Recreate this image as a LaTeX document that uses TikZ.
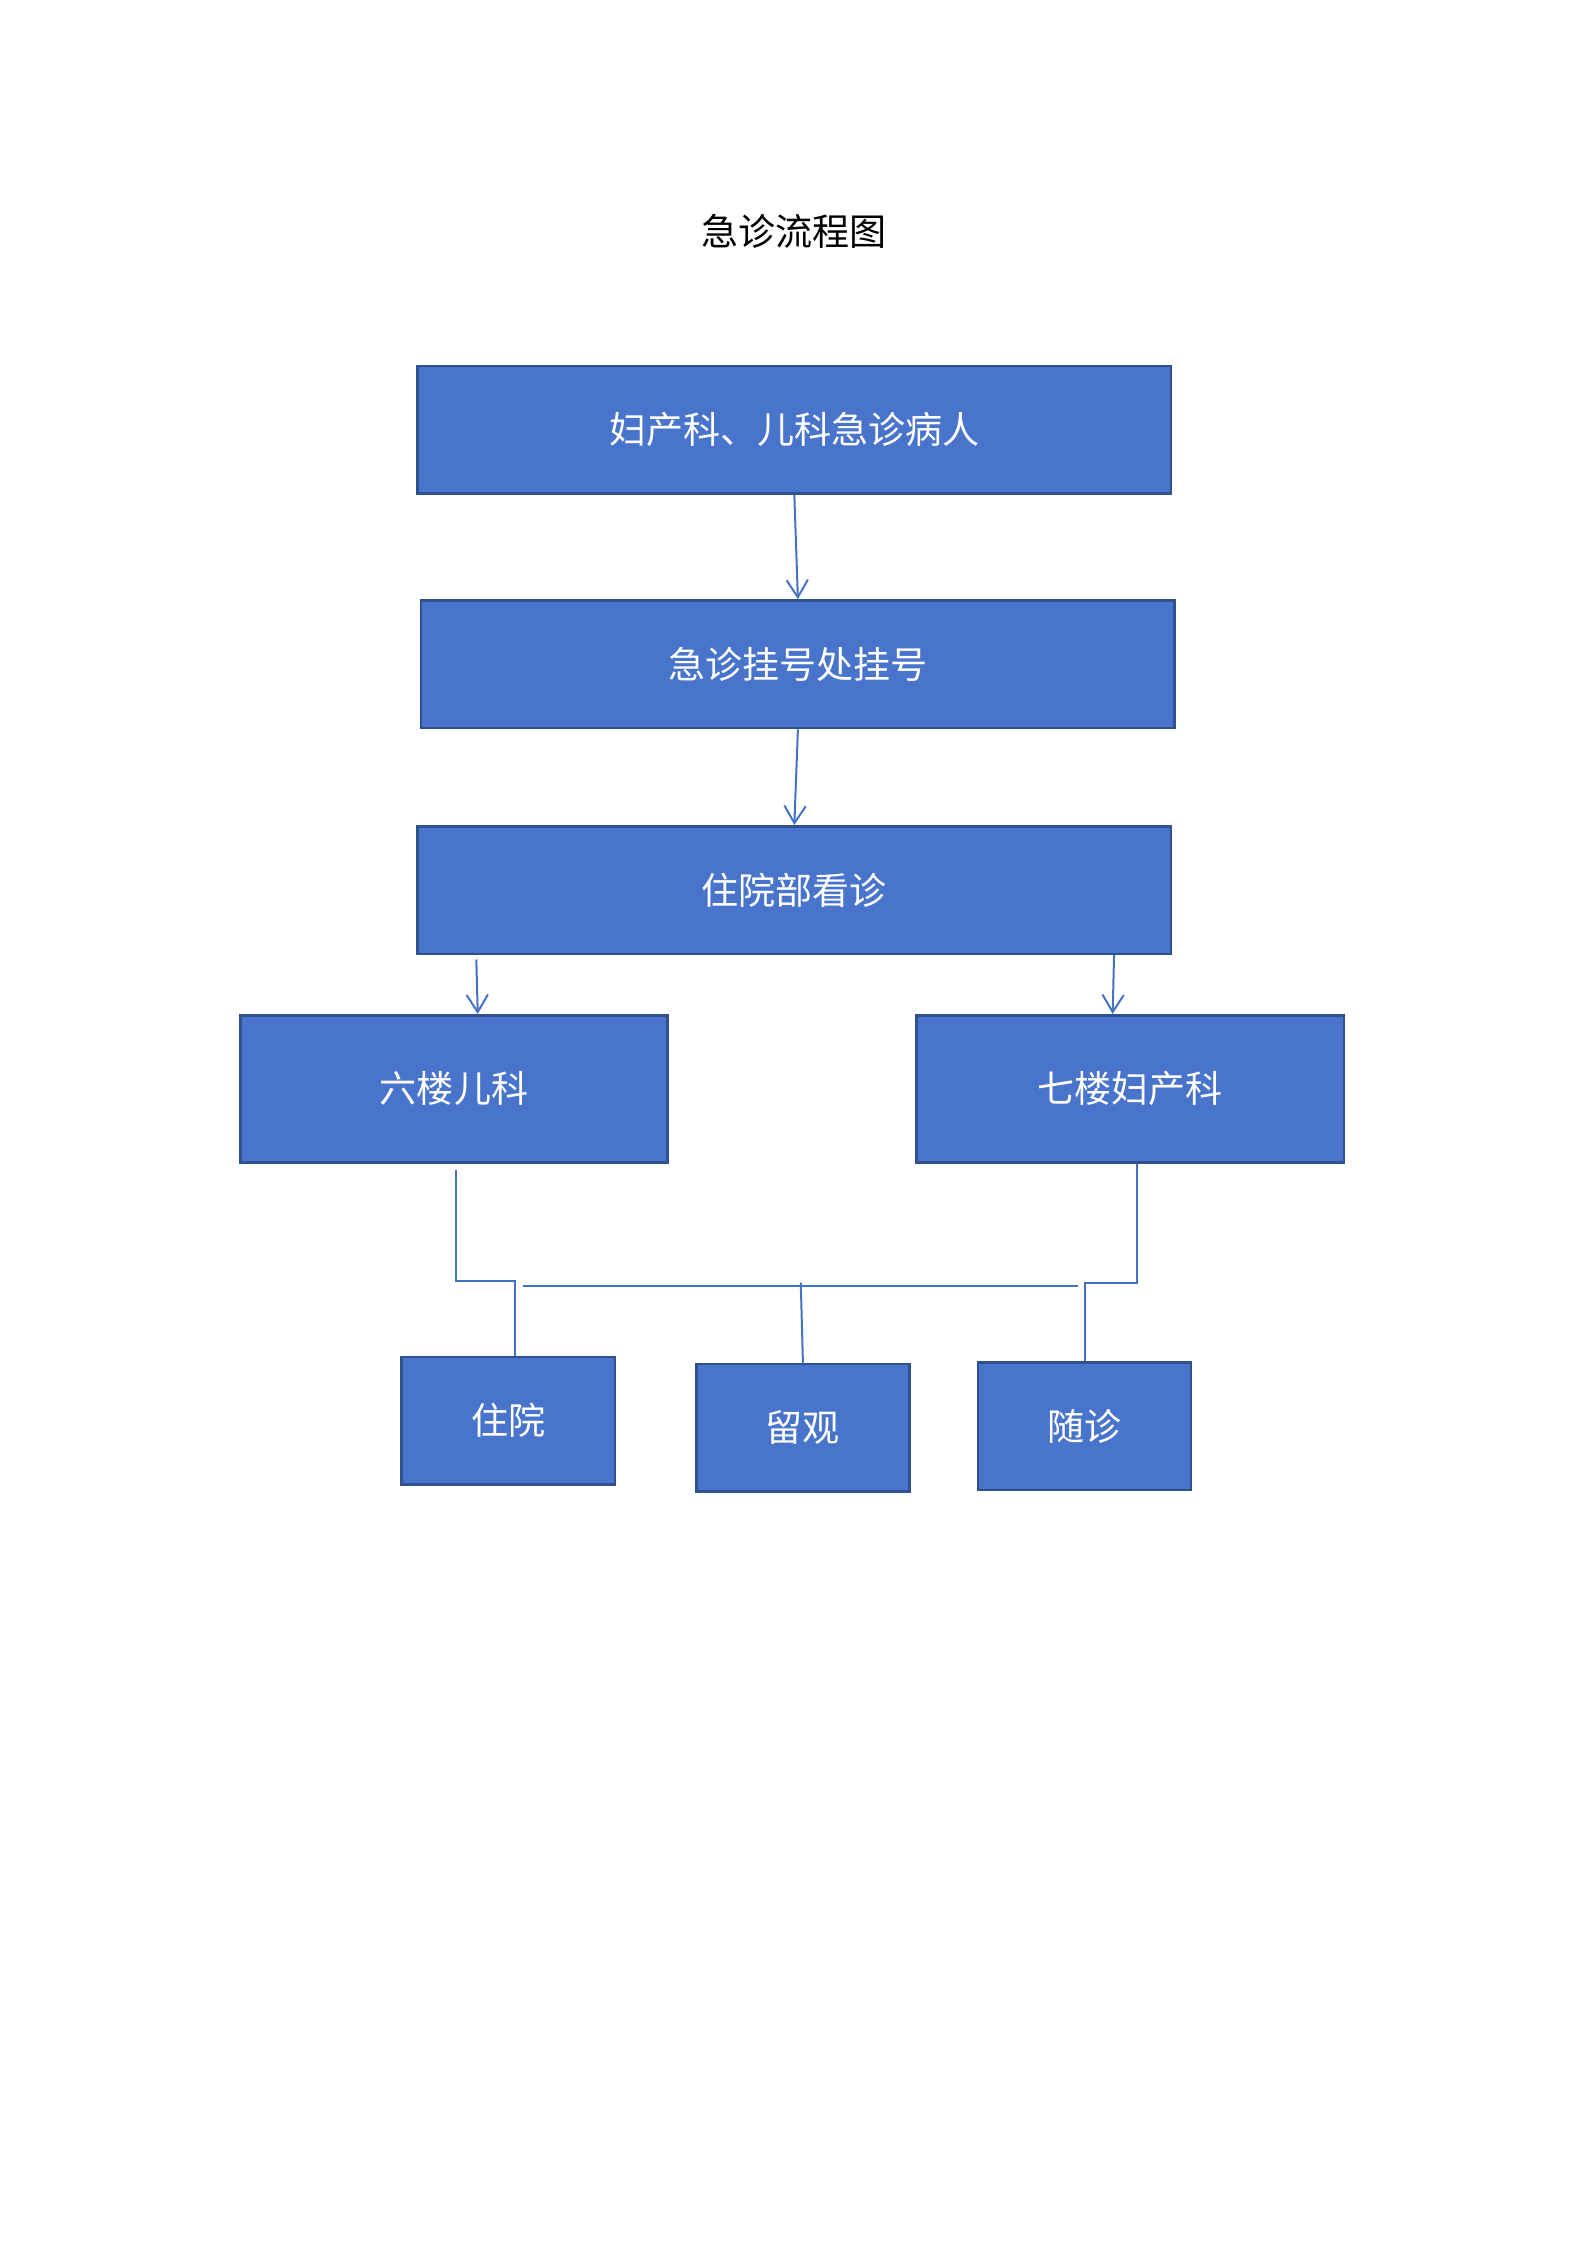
\documentclass[tikz,border=0pt]{standalone}
\usepackage{fontspec}
\setmainfont{Noto Sans CJK SC}
\usetikzlibrary{arrows.meta}
\usetikzlibrary{calc}
\definecolor{boxfill}{RGB}{72,116,203}
\definecolor{boxline}{RGB}{47,82,143}
\definecolor{linkblue}{RGB}{68,114,196}

\begin{document}
\begin{tikzpicture}[x=0.5363pt,y=-0.5363pt,>={Straight Barb[length=6.5pt,width=8pt]},
    flowbox/.style={draw=boxline,line width=1pt,fill=boxfill,text=white,
        font=\fontsize{13.9}{16}\selectfont,inner sep=0pt},
    widebox/.style={flowbox,minimum width=282.6pt,minimum height=47.8pt},
    floorbox/.style={flowbox,minimum width=160.3pt,minimum height=55.2pt},
    endbox/.style={flowbox,minimum width=79.9pt,minimum height=47.8pt},
    link/.style={draw=linkblue,line width=0.75pt}]
                        \useasboundingbox (0,0) rectangle (1110,1570);
                        \node[font=\fontsize{13.9}{16}\selectfont] (title) at (555.5,162) {急诊流程图};
                        \node[widebox] (patient) at (555.5,300.5) {妇产科、儿科急诊病人};
                        \node[widebox] (reg) at (558,464.5) {急诊挂号处挂号};
                        \node[widebox] (visit) at (555.5,622.5) {住院部看诊};
                        \node[floorbox] (six) at (317.5,761.5) {六楼儿科};
                        \node[floorbox] (seven) at (790.5,761.5) {七楼妇产科};
                        \node[endbox] (hosp) at (355.5,993.5) {住院};
                        \node[endbox] (obs) at (561.5,998.5) {留观};
                        \node[endbox] (follow) at (758.5,997.5) {随诊};
                        \draw[link,->] (patient.south) -- (reg.north);
                        \draw[link,->] (reg.south) -- (visit.north);
                        \draw[link,->] ($(visit.south west)+(42,3)$) -- ($(six.north west)+(167,0)$);
                        \draw[link,->] ($(visit.south west)+(488,0)$) -- ($(seven.north west)+(138,0)$);
                        \draw[link] ($(six.south west)+(152,4)$) |- ($(hosp.north west)+(80,-52)$)
                            -- ($(hosp.north west)+(80,0)$);
                        \draw[link] ($(seven.south east)+(-146,0)$) |- ($(follow.north)+(0,-55)$)
                            -- (follow.north);
                        \coordinate (barL) at (366,899);
                        \coordinate (barR) at (754,899);
                        \coordinate (barM) at (560,897);
                        \draw[link] (barL) -- (barR);
                        \draw[link] (barM) -- (obs.north);
                    \end{tikzpicture}
\end{document}
